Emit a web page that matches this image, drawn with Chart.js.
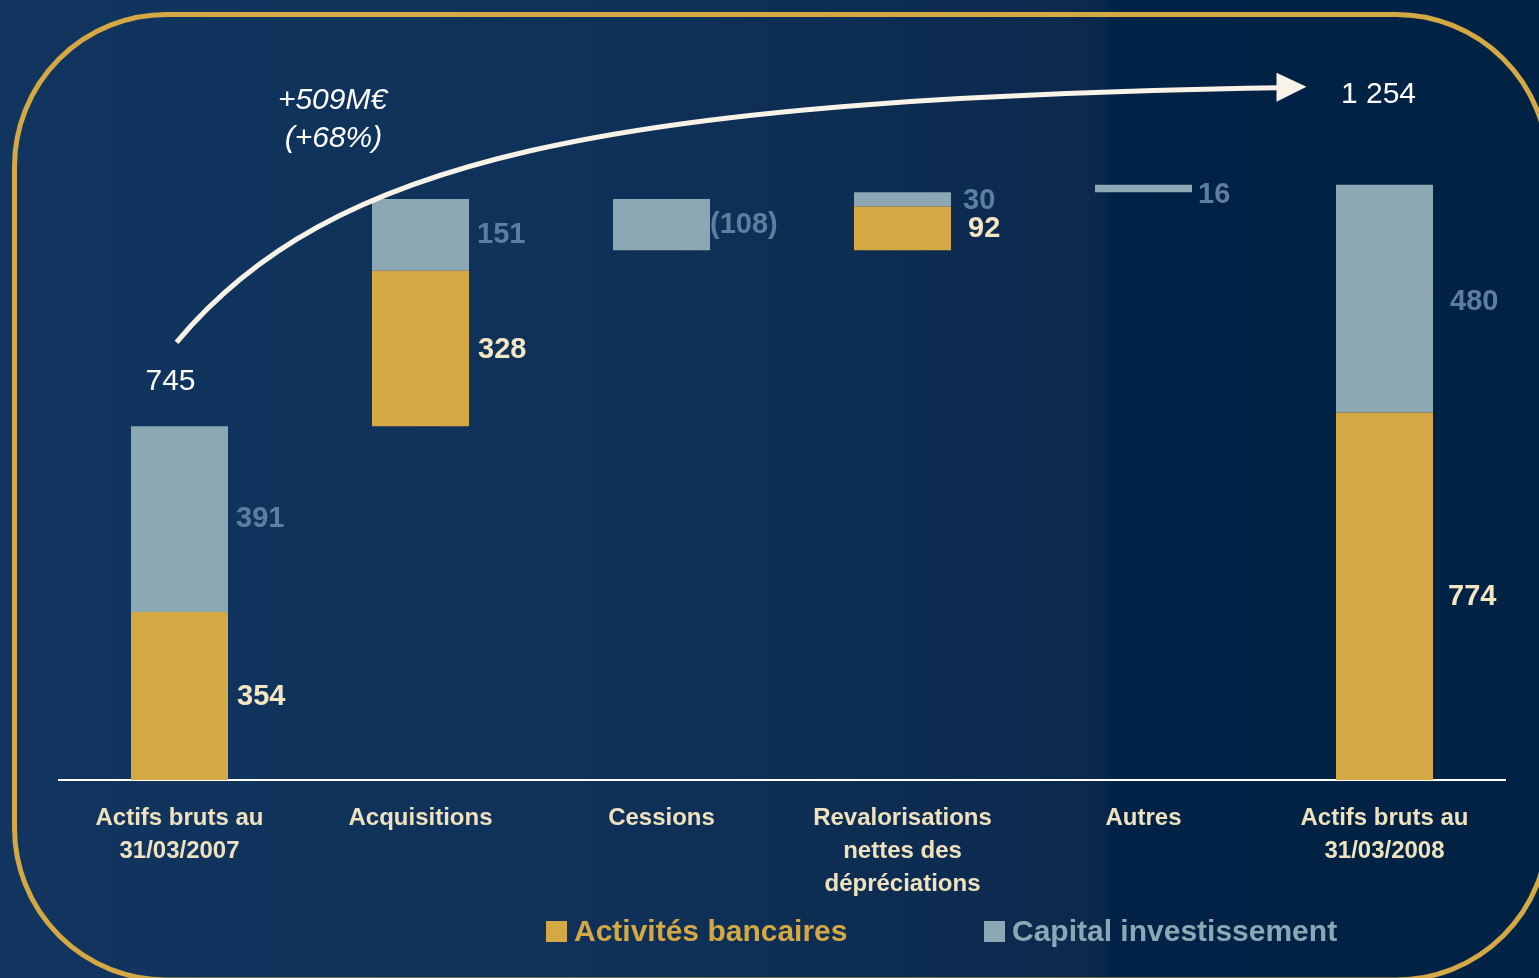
<!DOCTYPE html>
<html><head><meta charset="utf-8">
<script src="https://cdn.jsdelivr.net/npm/chart.js@4.4.1/dist/chart.umd.min.js"></script>
<style>html,body{margin:0;padding:0;background:#10335E;overflow:hidden}canvas{display:block}</style>
</head><body>
<canvas id="c" width="1539" height="978" style="width:1539px;height:978px"></canvas>
<script>
// ---------- data ----------
const categories = [["Actifs bruts au","31/03/2007"],["Acquisitions"],["Cessions"],["Revalorisations","nettes des","dépréciations"],["Autres"],["Actifs bruts au","31/03/2008"]];
const barTypes = ["total","delta","delta","delta","delta","total"];
const seriesNames = ["Activités bancaires","Capital investissement"];
const bancaires = [354, 328, 0, 92, 0, 774];
const capital = [391, 151, -108, 30, 16, 480];
const totalLabels = ["745", null, null, null, null, "1 254"];
const growthLabel = ["+509M€", "(+68%)"];
const yMin = 0, yMax = 1500;

// ---------- waterfall ranges built from the values ----------
let running = 0;
const goldRanges = [], greyRanges = [];
for (let i = 0; i < categories.length; i++) {
  const base = barTypes[i] === 'total' ? 0 : running;
  const g = bancaires[i], c = capital[i];
  goldRanges.push(g ? [base, base + g] : null);
  const top = base + g;
  greyRanges.push(c ? [top, top + c] : null);
  running = top + c;
}

const GOLD = '#D4A843', GREY = '#8BA8B4';
const GOLD_TXT = '#F3E6C2', GREY_TXT = '#5B7F9E';
const FONT = "'Liberation Sans', Arial, sans-serif";
const fmt = v => v < 0 ? '(' + Math.abs(v) + ')' : String(v);

const goldGap = [9, 9, 0, 17, 0, 15];
const greyGap = [8, 8, 0, 12, 6, 17];
const greyDy = [0, 0, 0, 2, 6, 3];

const decor = {
  id: 'decor',
  beforeDraw(chart) {
    const ctx = chart.ctx, W = chart.width, H = chart.height;
    ctx.save();
    const gr = ctx.createLinearGradient(0, 0, W, 0);
    gr.addColorStop(0, '#11355F');
    gr.addColorStop(0.4, '#0F3159');
    gr.addColorStop(0.712, '#0C294D');
    gr.addColorStop(0.724, '#002246');
    gr.addColorStop(1, '#002244');
    ctx.fillStyle = gr;
    ctx.fillRect(0, 0, W, H);
    // gold rounded frame
    const l = 14.5, t = 14.5, r = 1548, b = 980, rad = 152;
    ctx.beginPath();
    ctx.moveTo(l + rad, t);
    ctx.lineTo(r - rad, t);
    ctx.arcTo(r, t, r, t + rad, rad);
    ctx.lineTo(r, b - rad);
    ctx.arcTo(r, b, r - rad, b, rad);
    ctx.lineTo(l + rad, b);
    ctx.arcTo(l, b, l, b - rad, rad);
    ctx.lineTo(l, t + rad);
    ctx.arcTo(l, t, l + rad, t, rad);
    ctx.closePath();
    ctx.lineWidth = 5;
    ctx.strokeStyle = GOLD;
    ctx.stroke();
    ctx.restore();
  },
  afterDatasetsDraw(chart) {
    const ctx = chart.ctx;
    const mGold = chart.getDatasetMeta(0), mGrey = chart.getDatasetMeta(1);
    ctx.save();
    ctx.textBaseline = 'middle';
    ctx.textAlign = 'left';
    ctx.font = 'bold 29px ' + FONT;
    for (let i = 0; i < categories.length; i++) {
      const eg = mGold.data[i];
      if (goldRanges[i]) {
        ctx.fillStyle = GOLD_TXT;
        ctx.fillText(fmt(bancaires[i]), eg.x + eg.width / 2 + goldGap[i], (eg.y + eg.base) / 2 + 1);
      }
      const ec = mGrey.data[i];
      if (greyRanges[i]) {
        ctx.fillStyle = GREY_TXT;
        ctx.fillText(fmt(capital[i]), ec.x + ec.width / 2 + greyGap[i], (ec.y + ec.base) / 2 + greyDy[i]);
      }
    }
    // totals
    ctx.font = '30px ' + FONT;
    ctx.fillStyle = '#FFFFFF';
    ctx.textAlign = 'center';
    const e0 = mGrey.data[0], e5 = mGrey.data[5];
    if (totalLabels[0]) ctx.fillText(totalLabels[0], e0.x - 9, e0.y - 45);
    if (totalLabels[5]) ctx.fillText(totalLabels[5], e5.x - 6, e5.y - 90);

    // growth arrow
    const p0x = e0.x - 3, p0y = e0.y - 84;
    const p3x = e5.x - 106, p3y = e5.y - 97;
    ctx.strokeStyle = '#F8F3E6';
    ctx.fillStyle = '#F8F3E6';
    ctx.lineWidth = 5;
    ctx.lineCap = 'butt';
    ctx.beginPath();
    ctx.moveTo(p0x, p0y);
    ctx.bezierCurveTo(p0x + 153, p0y - 183, p0x + 423, p0y - 243, p3x, p3y);
    ctx.stroke();
    ctx.beginPath();
    ctx.moveTo(p3x - 2, p3y - 15);
    ctx.lineTo(p3x + 28, p3y - 1);
    ctx.lineTo(p3x - 2, p3y + 14);
    ctx.closePath();
    ctx.fill();

    // growth annotation
    ctx.font = 'italic 30px ' + FONT;
    ctx.fillStyle = '#FFFFFF';
    ctx.textAlign = 'center';
    ctx.fillText(growthLabel[0], p0x + 156, p0y - 242);
    ctx.fillText(growthLabel[1], p0x + 157, p0y - 204);

    // legend
    ctx.font = 'bold 30px ' + FONT;
    ctx.textAlign = 'left';
    const items = [[546, GOLD, seriesNames[0]], [984, GREY, seriesNames[1]]];
    items.forEach(([x, col, txt]) => {
      ctx.fillStyle = col;
      ctx.fillRect(x, 921, 21, 21);
      ctx.fillText(txt, x + 28, 933);
    });
    ctx.restore();
  }
};

new Chart(document.getElementById('c'), {
  type: 'bar',
  data: {
    labels: categories,
    datasets: [
      { label: seriesNames[0], data: goldRanges, backgroundColor: GOLD, borderWidth: 0, grouped: false, barPercentage: 0.4025, categoryPercentage: 1 },
      { label: seriesNames[1], data: greyRanges, backgroundColor: GREY, borderWidth: 0, grouped: false, barPercentage: 0.4025, categoryPercentage: 1 }
    ]
  },
  options: {
    responsive: false,
    devicePixelRatio: 1,
    animation: false,
    layout: { padding: { left: 59, right: 34, top: 68, bottom: 0 } },
    scales: {
      x: {
        grid: { display: false, drawTicks: false },
        border: { display: true, color: '#FFFFFF', width: 2 },
        ticks: {
          color: '#EFE2BE',
          font: { family: FONT, size: 24, weight: 'bold', lineHeight: 1.375 },
          padding: 22,
          maxRotation: 0,
          autoSkip: false
        },
        afterFit(scale) { scale.height = 198; }
      },
      y: { display: false, min: yMin, max: yMax }
    },
    plugins: { legend: { display: false }, tooltip: { enabled: false } }
  },
  plugins: [decor]
});
</script>
</body></html>
